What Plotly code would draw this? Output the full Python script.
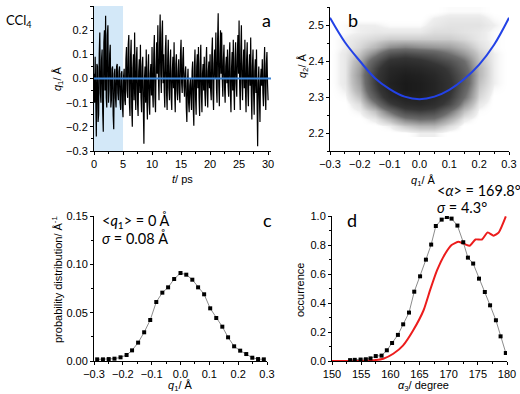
import plotly.graph_objs as go

# ---- panel a: q1 trajectory, read at 0.2 ps plus the values between them ----
t_step = 0.1
q1_even = [0.02, 0.09, -0.24, 0.05, -0.15, 0.19, -0.10, 0.12, -0.22, 0.20,
           0.26, -0.12, 0.22, -0.05, 0.14, -0.09, 0.05, -0.21, 0.04, -0.12,
           0.06, -0.09, 0.05, -0.13, 0.03, -0.16, 0.04, -0.11, 0.13, -0.08,
           0.18, -0.155, 0.16, -0.20, 0.10, 0.19, -0.13, 0.13, -0.155, 0.08,
           0.14, -0.14, 0.09, -0.27, 0.05, 0.12, -0.17, 0.10, -0.15, 0.06,
           0.13, -0.12, 0.18, -0.14, 0.15, 0.22, -0.09, 0.265, -0.06, 0.24,
           0.10, -0.12, 0.18, -0.13, 0.16, -0.09, 0.12, -0.13, 0.09, 0.15,
           -0.14, 0.10, -0.09, 0.08, -0.10, 0.16, -0.06, 0.13, -0.075, 0.05,
           -0.18, 0.04, -0.14, 0.0, -0.13, 0.07, -0.195, 0.12, -0.15, 0.10,
           0.13, -0.155, 0.14, -0.14, 0.06, 0.09, -0.115, 0.13, -0.12, 0.07,
           0.10, -0.09, 0.17, -0.13, 0.12, 0.19, -0.10, 0.27, -0.115, 0.20,
           0.19, -0.075, 0.14, -0.10, 0.09, 0.12, -0.075, 0.15, -0.14, 0.11,
           0.16, -0.13, 0.15, -0.075, 0.18, 0.24, -0.13, 0.22, -0.09, 0.12,
           0.16, -0.14, 0.15, -0.115, 0.10, 0.17, -0.17, 0.12, -0.15, 0.08,
           0.12, -0.28, 0.05, -0.18, 0.04, 0.08, -0.115, 0.13, -0.13, 0.11,
           -0.09]
q1_odd = [-0.10, -0.12, 0.06, -0.18, 0.10, -0.06, 0.08, -0.14, 0.15, -0.05,
          -0.08, 0.18, -0.10, 0.10, -0.12, 0.04, -0.15, 0.02, -0.08, 0.05,
          -0.06, 0.03, -0.10, 0.02, -0.12, 0.01, -0.09, 0.08, -0.05, 0.14,
          -0.10, 0.09, -0.12, 0.04, -0.09, -0.05, 0.08, -0.10, 0.03, -0.06,
          -0.08, 0.05, -0.12, 0.00, -0.10, -0.08, 0.04, -0.10, 0.02, -0.07,
          -0.06, 0.10, -0.08, 0.05, 0.02, 0.00, 0.14, 0.02, 0.18, -0.02,
          -0.05, 0.12, -0.06, 0.08, -0.04, 0.05, -0.08, 0.03, -0.04, -0.06,
          0.06, -0.05, 0.03, -0.06, 0.10, -0.02, 0.08, -0.03, 0.02, -0.12,
          -0.02, -0.10, -0.03, -0.08, 0.03, -0.12, 0.04, -0.08, 0.05, -0.04,
          -0.08, 0.06, -0.06, 0.02, -0.05, -0.06, 0.06, -0.05, 0.03, -0.04,
          -0.05, 0.10, -0.06, 0.06, 0.00, -0.04, 0.16, -0.02, 0.10, 0.02,
          0.00, 0.08, -0.04, 0.05, -0.02, -0.03, 0.08, -0.06, 0.04, -0.05,
          -0.04, 0.08, -0.02, 0.10, 0.02, -0.03, 0.12, -0.02, 0.05, -0.04,
          -0.05, 0.08, -0.04, 0.04, -0.03, -0.06, 0.05, -0.06, 0.03, -0.06,
          -0.10, -0.02, -0.08, 0.00, -0.03, -0.06, 0.05, -0.06, 0.06, -0.02]
q1_trace = []
for i, v in enumerate(q1_even):
    q1_trace.append(v)
    if i < len(q1_odd):
        q1_trace.append(q1_odd[i])
t_trace = [round(i * t_step, 1) for i in range(len(q1_trace))]

cloud_q1 = [-0.30, -0.25, -0.20, -0.15, -0.10, -0.05, 0.00, 0.05, 0.10, 0.15, 0.20, 0.25, 0.30]
cloud_q2 = [2.20, 2.22, 2.24, 2.26, 2.28, 2.30, 2.32, 2.34, 2.36, 2.38,
            2.40, 2.42, 2.44, 2.46, 2.48, 2.50, 2.52, 2.54]
cloud_density = [
    [0, 0, 0, 0, 0, 0, 0.02, 0.02, 0, 0, 0, 0, 0],
    [0, 0, 0, 0, 0.02, 0.08, 0.12, 0.12, 0.05, 0, 0, 0, 0],
    [0, 0, 0, 0.03, 0.12, 0.25, 0.30, 0.28, 0.15, 0.03, 0, 0, 0],
    [0, 0, 0.02, 0.10, 0.30, 0.50, 0.55, 0.50, 0.30, 0.10, 0.01, 0, 0],
    [0, 0, 0.05, 0.25, 0.55, 0.75, 0.80, 0.70, 0.50, 0.20, 0.03, 0, 0],
    [0, 0.01, 0.10, 0.40, 0.75, 0.90, 0.90, 0.80, 0.60, 0.30, 0.06, 0, 0],
    [0, 0.02, 0.15, 0.50, 0.85, 1.00, 0.95, 0.85, 0.65, 0.35, 0.08, 0.01, 0],
    [0, 0.03, 0.18, 0.55, 0.90, 1.00, 0.95, 0.85, 0.65, 0.40, 0.10, 0.02, 0],
    [0, 0.03, 0.20, 0.55, 0.85, 0.95, 0.90, 0.80, 0.60, 0.40, 0.12, 0.02, 0],
    [0, 0.03, 0.18, 0.50, 0.80, 0.85, 0.80, 0.70, 0.55, 0.35, 0.12, 0.02, 0],
    [0, 0.03, 0.15, 0.40, 0.65, 0.70, 0.65, 0.55, 0.45, 0.30, 0.10, 0.02, 0],
    [0, 0.03, 0.10, 0.25, 0.45, 0.50, 0.45, 0.40, 0.30, 0.20, 0.08, 0.02, 0],
    [0, 0.02, 0.06, 0.12, 0.22, 0.25, 0.22, 0.20, 0.18, 0.12, 0.05, 0.01, 0],
    [0, 0.02, 0.04, 0.06, 0.08, 0.08, 0.08, 0.08, 0.08, 0.06, 0.03, 0.01, 0],
    [0, 0.01, 0.02, 0.03, 0.03, 0.03, 0.03, 0.05, 0.05, 0.04, 0.03, 0.01, 0],
    [0, 0.01, 0.02, 0.02, 0.01, 0.01, 0.01, 0.03, 0.04, 0.04, 0.04, 0.02, 0],
    [0, 0, 0, 0, 0, 0, 0, 0.02, 0.03, 0.03, 0.03, 0.01, 0],
    [0, 0, 0, 0, 0, 0, 0, 0, 0.01, 0.01, 0.01, 0, 0],
]
fit_q1 = [-0.30, -0.25, -0.20, -0.15, -0.10, -0.05, 0.00, 0.05, 0.10, 0.15, 0.20, 0.25, 0.30]
fit_q2 = [2.52, 2.452, 2.400, 2.353, 2.322, 2.301, 2.294, 2.301, 2.320, 2.350, 2.390, 2.445, 2.52]

# ---- panel c: q1 distribution ----
dist_q1 = [-0.289, -0.269, -0.249, -0.229, -0.208, -0.187, -0.168, -0.147, -0.126, -0.105,
           -0.084, -0.063, -0.043, -0.022, 0.000, 0.020, 0.041, 0.061, 0.082, 0.103,
           0.124, 0.145, 0.165, 0.186, 0.207, 0.228, 0.249, 0.269, 0.289]
dist_p = [0.0017, 0.0017, 0.002, 0.0024, 0.0038, 0.0062, 0.011, 0.019, 0.0297, 0.0424,
          0.061, 0.0707, 0.0762, 0.0848, 0.091, 0.0893, 0.0841, 0.0762, 0.069, 0.0545,
          0.0445, 0.0355, 0.0245, 0.0152, 0.0107, 0.0072, 0.0034, 0.002, 0.0017]

# ---- panel d: alpha distribution (squares) and red curve ----
alpha_deg = [153.1, 153.9, 154.9, 155.8, 156.6, 157.5, 158.5, 159.4, 160.3, 161.3,
             162.2, 163.2, 164.1, 165.1, 166.1, 167.0, 167.8, 168.8, 169.7, 170.5,
             171.5, 172.5, 173.3, 174.2, 175.2, 176.2, 177.1, 178.1, 178.9, 179.8]
alpha_occ = [0.006, 0.008, 0.010, 0.012, 0.018, 0.034, 0.037, 0.074, 0.124, 0.180,
             0.253, 0.334, 0.478, 0.584, 0.699, 0.803, 0.931, 0.975, 0.993, 0.982,
             0.934, 0.819, 0.713, 0.672, 0.568, 0.476, 0.384, 0.281, 0.170, 0.055]
red_deg = [150.0, 152.0, 154.0, 156.0, 157.5, 158.8, 160.5, 162.2, 163.9, 165.7, 166.8,
           168.0, 169.4, 170.5, 171.7, 172.8, 173.6, 174.6, 175.7, 176.7, 177.7, 178.6, 179.8]
red_occ = [0.0, 0.0, 0.001, 0.003, 0.007, 0.016, 0.05, 0.108, 0.21, 0.35, 0.487,
           0.625, 0.74, 0.80, 0.822, 0.805, 0.795, 0.838, 0.838, 0.887, 0.864, 0.887, 0.997]

W, H = 520, 394
tick_font = dict(family='Liberation Sans, Arial', size=11, color='black')


def px_x(a, b):
    return [a / W, b / W]


def px_y(top, bottom):
    return [1 - bottom / H, 1 - top / H]


def axis(domain, rng, dtick, minor, fmt, anchor, tick0=None):
    return dict(domain=domain, range=rng, dtick=dtick, tick0=rng[0] if tick0 is None else tick0,
                tickformat=fmt, showline=True, linecolor='black', linewidth=1,
                ticks='outside', ticklen=3, tickcolor='black', showgrid=False,
                zeroline=False, tickfont=tick_font, anchor=anchor, automargin=False,
                minor=dict(dtick=minor, ticks='outside', ticklen=2, tickcolor='black'))


sq = dict(symbol='square', size=4, color='black')
traces = [
    go.Scatter(x=t_trace, y=q1_trace, mode='lines', line=dict(color='black', width=1.2),
               xaxis='x', yaxis='y', showlegend=False),
    go.Scatter(x=[0, 30.5], y=[0, 0], mode='lines', line=dict(color='#3f86d6', width=2),
               xaxis='x', yaxis='y', showlegend=False),
    go.Heatmap(x=cloud_q1, y=cloud_q2, z=cloud_density, zsmooth='best', showscale=False,
               colorscale=[[0, 'rgba(255,255,255,0)'], [0.02, '#eeeeee'], [0.1, '#c0c0c0'],
                           [0.3, '#6c6c6c'], [0.6, '#353535'], [1, '#1a1a1a']],
               xaxis='x2', yaxis='y2', hoverinfo='skip'),
    go.Scatter(x=fit_q1, y=fit_q2, mode='lines', line=dict(color='#2342e6', width=2, shape='spline'),
               xaxis='x2', yaxis='y2', showlegend=False),
    go.Scatter(x=dist_q1, y=dist_p, mode='lines+markers', line=dict(color='#8c8c8c', width=1),
               marker=sq, xaxis='x3', yaxis='y3', showlegend=False),
    go.Scatter(x=red_deg, y=red_occ, mode='lines', line=dict(color='#ec1c1c', width=2, shape='spline', smoothing=0.5),
               xaxis='x4', yaxis='y4', showlegend=False),
    go.Scatter(x=alpha_deg, y=alpha_occ, mode='lines+markers', line=dict(color='#8c8c8c', width=1),
               marker=sq, xaxis='x4', yaxis='y4', showlegend=False),
]

ann_font = dict(family='Lato, Open Sans', size=14.5, color='black')
lab_font = dict(family='Liberation Sans, Arial', size=11, color='black')
letter_font = dict(family='Lato, Open Sans', size=18, color='black')


def note(x, y, text, font, xanchor='center', angle=0):
    return dict(x=x / W, y=1 - y / H, xref='paper', yref='paper', text=text, showarrow=False,
                font=font, xanchor=xanchor, yanchor='middle', textangle=angle)


annotations = [
    note(4, 21, 'CCl<sub>4</sub>', dict(ann_font, size=13), 'left'),
    note(266, 20, 'a', letter_font),
    note(353, 20, 'b', letter_font),
    note(267, 220, 'c', letter_font),
    note(352, 220, 'd', letter_font),
    note(58, 79, '<i>q</i><sub>1</sub>/ Å', lab_font, angle=-90),
    note(182, 179, '<i>t</i>/ ps', lab_font),
    note(303, 66, '<i>q</i><sub>2</sub>/ Å', lab_font, angle=-90),
    note(423, 181, '<i>q</i><sub>1</sub>/ Å', lab_font),
    note(57, 280, 'probability distribution/ Å<sup>-1</sup>', lab_font, angle=-90),
    note(180, 386, '<i>q</i><sub>1</sub>/ Å', lab_font),
    note(300, 290, 'occurrence', lab_font, angle=-90),
    note(423, 386, '<i>α</i><sub>3</sub>/ degree', lab_font),
    note(435, 190, '<<i>α</i>> = 169.8°', ann_font, 'left'),
    note(435, 207, '<i>σ</i> = 4.3°', ann_font, 'left'),
    note(100, 221, '<<i>q</i><sub>1</sub>> = 0 Å', ann_font, 'left'),
    note(100, 238, '<i>σ</i> = 0.08 Å', ann_font, 'left'),
]

layout = go.Layout(
    width=W, height=H, margin=dict(l=0, r=0, t=0, b=0, pad=0, autoexpand=False),
    paper_bgcolor='white', plot_bgcolor='rgba(0,0,0,0)',
    xaxis=axis(px_x(94, 271), [0, 30.5], 5, 2.5, 'd', 'y'),
    yaxis=axis(px_y(6, 151), [-0.3, 0.3], 0.1, 0.05, '.1f', 'x'),
    xaxis2=axis(px_x(330, 509), [-0.3, 0.3], 0.1, 0.05, '.1f', 'y2'),
    yaxis2=axis(px_y(7, 151), [2.15, 2.55], 0.1, 0.05, '.1f', 'x2', tick0=2.2),
    xaxis3=axis(px_x(94, 267), [-0.3, 0.3], 0.1, 0.05, '.1f', 'y3'),
    yaxis3=axis(px_y(216, 361), [0, 0.15], 0.05, 0.025, '.2f', 'x3'),
    xaxis4=axis(px_x(332, 507), [150, 180], 5, 2.5, 'd', 'y4'),
    yaxis4=axis(px_y(216, 361), [0, 1.0], 0.2, 0.1, '.1f', 'x4'),
    shapes=[dict(type='rect', xref='x', yref='y', x0=0, x1=5, y0=-0.3, y1=0.3,
                 fillcolor='#d3e8f8', line=dict(width=0), layer='below')],
    annotations=annotations,
)

fig = go.Figure(data=traces, layout=layout)
# the page's default body margin would push the 520x394 figure off the window
fig.write_html("out.html", config={'displayModeBar': False},
               post_script="document.body.style.margin='0';")
